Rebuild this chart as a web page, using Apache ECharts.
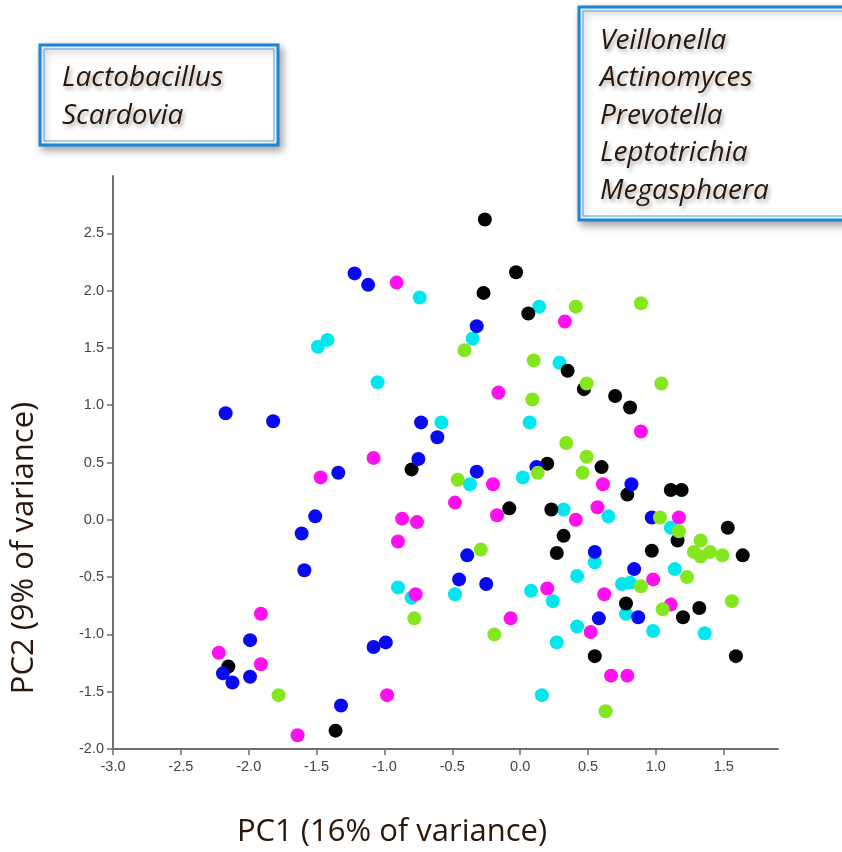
<!DOCTYPE html>
<html>

<head>
    <meta charset="UTF-8">
    <title>PCA scatter</title>
    <script src="https://cdn.jsdelivr.net/npm/echarts@6.0.0/dist/echarts.min.js"></script>
    <style>
        html, body { margin: 0; padding: 0; background: #fff; }
    </style>
</head>

<body>
    <div id="main" style="width: 842px; height: 852px;"></div>
    <script>
        // tick labels
        const xTicks = [-3.0, -2.5, -2.0, -1.5, -1.0, -0.5, 0.0, 0.5, 1.0, 1.5];
        const yTicks = [-2.0, -1.5, -1.0, -0.5, 0.0, 0.5, 1.0, 1.5, 2.0, 2.5];

        // genera shown in the two boxes
        const leftGenera = ['Lactobacillus', 'Scardovia'];
        const rightGenera = ['Veillonella', 'Actinomyces', 'Prevotella', 'Leptotrichia', 'Megasphaera'];

        // points, [PC1, PC2], grouped by colour
        const cyanPts = [
            [-1.49, 1.51], [-1.42, 1.57], [-0.74, 1.94], [-1.05, 1.20], [-0.35, 1.58],
            [-0.58, 0.85], [0.14, 1.86], [0.29, 1.37], [0.07, 0.85], [0.02, 0.37],
            [-0.37, 0.31], [0.32, 0.09], [0.65, 0.03], [1.11, -0.07], [1.14, -0.43],
            [0.75, -0.56], [0.81, -0.55], [0.78, -0.82], [0.98, -0.97], [1.36, -0.99],
            [0.55, -0.37], [0.42, -0.49], [-0.48, -0.65], [0.08, -0.62], [0.24, -0.71],
            [0.42, -0.93], [0.27, -1.07], [0.16, -1.53], [-0.90, -0.59], [-0.80, -0.68]
        ];
        const magentaPts = [
            [-0.91, 2.07], [0.33, 1.73], [-0.16, 1.11], [-1.08, 0.54], [-0.20, 0.31],
            [0.89, 0.77], [0.61, 0.31], [0.57, 0.11], [0.41, 0.00], [1.17, 0.02],
            [0.98, -0.52], [0.62, -0.65], [1.11, -0.74], [0.67, -1.36], [0.79, -1.36],
            [-0.48, 0.15], [-0.17, 0.04], [-0.76, -0.02], [-0.87, 0.01], [-0.90, -0.19],
            [-0.77, -0.65], [-0.07, -0.86], [0.52, -0.98], [0.20, -0.60], [-1.47, 0.37],
            [-1.91, -0.82], [-2.22, -1.16], [-1.91, -1.26], [-0.98, -1.53], [-1.64, -1.88]
        ];
        const blackPts = [
            [-0.26, 2.62], [-0.03, 2.16], [-0.27, 1.98], [0.06, 1.80], [0.35, 1.30],
            [0.47, 1.14], [0.70, 1.08], [0.81, 0.98], [-0.80, 0.44], [0.20, 0.49],
            [0.60, 0.46], [0.79, 0.22], [1.11, 0.26], [1.19, 0.26], [1.53, -0.07],
            [1.16, -0.18], [0.97, -0.27], [1.64, -0.31], [-0.08, 0.10], [0.23, 0.09],
            [0.32, -0.14], [0.27, -0.29], [0.78, -0.73], [1.32, -0.77], [1.20, -0.85],
            [0.55, -1.19], [1.59, -1.19], [-2.15, -1.28], [-1.36, -1.84]
        ];
        const bluePts = [
            [-2.17, 0.93], [-1.82, 0.86], [-1.22, 2.15], [-1.12, 2.05], [-0.32, 1.69],
            [-0.73, 0.85], [-0.61, 0.72], [-0.75, 0.53], [-1.34, 0.41], [-0.32, 0.42],
            [0.12, 0.46], [0.82, 0.31], [0.97, 0.02], [0.55, -0.28], [0.58, -0.86],
            [0.84, -0.43], [0.87, -0.85], [-0.39, -0.31], [-0.45, -0.52], [-0.25, -0.56],
            [-1.51, 0.03], [-1.61, -0.12], [-1.59, -0.44], [-1.99, -1.05], [-2.19, -1.34],
            [-2.12, -1.42], [-1.99, -1.37], [-1.08, -1.11], [-0.99, -1.07], [-1.32, -1.62]
        ];
        const greenPts = [
            [0.41, 1.86], [0.89, 1.89], [-0.41, 1.48], [0.10, 1.39], [0.09, 1.05],
            [0.34, 0.67], [0.49, 1.19], [1.04, 1.19], [0.49, 0.55], [0.46, 0.41],
            [0.13, 0.41], [-0.46, 0.35], [1.03, 0.02], [1.17, -0.10], [1.33, -0.18],
            [1.28, -0.28], [1.33, -0.32], [1.40, -0.28], [1.49, -0.31], [1.23, -0.50],
            [0.89, -0.58], [1.05, -0.78], [1.56, -0.71], [-0.29, -0.26], [-0.78, -0.86],
            [-0.19, -1.00], [0.63, -1.67], [-1.78, -1.53]
        ];

        const groups = [
            { name: 'cyan', color: '#00e8ee', data: cyanPts },
            { name: 'magenta', color: '#ff10f0', data: magentaPts },
            { name: 'black', color: '#050505', data: blackPts },
            { name: 'blue', color: '#0a0af0', data: bluePts },
            { name: 'green', color: '#84e61c', data: greenPts }
        ];

        const axisGray = '#6e6e6e';
        const textBrown = '#2a1709';
        const boxBlue = '#1b86d2';

        function generaBox(x, y, w, h, names, textX, firstY, step) {
            const els = [
                {
                    type: 'rect',
                    shape: { x: x, y: y, width: w, height: h },
                    style: {
                        fill: '#fff', stroke: boxBlue, lineWidth: 3,
                        shadowBlur: 8, shadowOffsetX: 3, shadowOffsetY: 4,
                        shadowColor: 'rgba(0,0,0,0.35)'
                    },
                    z: 10
                },
                {
                    type: 'rect',
                    shape: { x: x + 4, y: y + 4, width: w - 8, height: h - 8 },
                    style: { fill: 'none', stroke: '#4aa3e0', lineWidth: 1 },
                    z: 11
                }
            ];
            names.forEach(function (n, i) {
                els.push({
                    type: 'text',
                    x: textX,
                    y: firstY + i * step,
                    style: {
                        text: n,
                        fill: textBrown,
                        font: 'italic 28px "Open Sans", sans-serif',
                        textVerticalAlign: 'middle',
                        textShadowColor: 'rgba(0,0,0,0.35)',
                        textShadowBlur: 4,
                        textShadowOffsetX: 2,
                        textShadowOffsetY: 3
                    },
                    z: 12
                });
            });
            return els;
        }

        const option = {
            animation: false,
            grid: { left: 113, right: 64, top: 176, bottom: 103 },
            xAxis: {
                type: 'value',
                min: -3,
                max: 1.9,
                interval: 0.5,
                splitLine: { show: false },
                axisLine: { onZero: false, lineStyle: { color: axisGray, width: 2 } },
                axisTick: { customValues: xTicks, length: 6, lineStyle: { color: axisGray, width: 1.5 } },
                axisLabel: {
                    customValues: xTicks,
                    margin: 10,
                    color: '#444',
                    fontFamily: 'Liberation Sans',
                    fontSize: 14.5,
                    formatter: function (v) { return v.toFixed(1); }
                }
            },
            yAxis: {
                type: 'value',
                min: -2,
                max: 3,
                interval: 0.5,
                splitLine: { show: false },
                axisLine: { show: true, onZero: false, lineStyle: { color: axisGray, width: 2 } },
                axisTick: { show: true, customValues: yTicks, length: 6, lineStyle: { color: axisGray, width: 1.5 } },
                axisLabel: {
                    customValues: yTicks,
                    margin: 9,
                    color: '#444',
                    fontFamily: 'Liberation Sans',
                    fontSize: 14.5,
                    formatter: function (v) { return v.toFixed(1); }
                }
            },
            series: groups.map(function (g) {
                return {
                    name: g.name,
                    type: 'scatter',
                    data: g.data,
                    symbolSize: 14,
                    itemStyle: { color: g.color, opacity: 1 }
                };
            }),
            graphic: [].concat(
                generaBox(40, 45, 238, 100, leftGenera, 62, 78, 38),
                generaBox(579, 7, 280, 213, rightGenera, 600, 41, 37.5),
                [
                    {
                        type: 'text',
                        x: 392,
                        y: 832,
                        style: {
                            text: 'PC1 (16% of variance)',
                            fill: textBrown,
                            font: '31px "Open Sans", sans-serif',
                            textAlign: 'center',
                            textVerticalAlign: 'middle'
                        }
                    },
                    {
                        type: 'text',
                        x: 24,
                        y: 548,
                        rotation: Math.PI / 2,
                        style: {
                            text: 'PC2 (9% of variance)',
                            fill: textBrown,
                            font: '31px "Open Sans", sans-serif',
                            textAlign: 'center',
                            textVerticalAlign: 'middle'
                        }
                    }
                ]
            )
        };

        const myChart = echarts.init(document.getElementById('main'));
        myChart.setOption(option);
    </script>
</body>

</html>
